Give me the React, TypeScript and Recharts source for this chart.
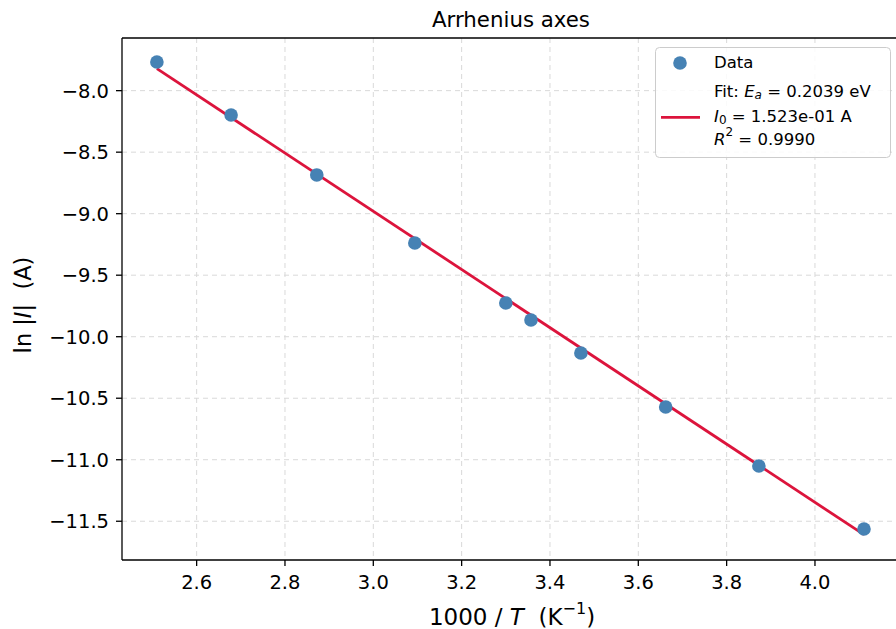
import React from "react";
import {
  ComposedChart,
  Scatter,
  Line,
  XAxis,
  YAxis,
  CartesianGrid,
  ReferenceLine,
  Label,
} from "recharts";

// Measured data (1000/T in K^-1, ln|I| in A)
const invT = [2.510, 2.678, 2.872, 3.094, 3.300, 3.357, 3.470, 3.662, 3.873, 4.111];
const lnI = [-7.767, -8.198, -8.685, -9.238, -9.726, -9.864, -10.132, -10.571, -11.051, -11.563];

// Fit line endpoints
const fitX = [2.510, 4.111];
const fitY = [-7.821, -11.609];

const xTicks = [2.6, 2.8, 3.0, 3.2, 3.4, 3.6, 3.8, 4.0];
const yTicks = [-8.0, -8.5, -9.0, -9.5, -10.0, -10.5, -11.0, -11.5];
const xDomain = [2.431, 4.188];
const yDomain = [-11.815, -7.572];

const title = "Arrhenius axes";
const legendData = "Data";
const fitEa = "0.2039 eV";
const fitI0 = "1.523e-01 A";
const fitR2 = "0.9990";

const dataPts = invT.map((x, i) => ({ x, y: lnI[i] }));
const fitPts = fitX.map((x, i) => ({ x, y: fitY[i] }));

const FONT = "DejaVu Sans, sans-serif";
const BLUE = "#4682b4";
const RED = "#dc143c";

const fmtY = (v: number) => (v < 0 ? "\u2212" + Math.abs(v).toFixed(1) : v.toFixed(1));

const Dot = (p: any) => <circle cx={p.cx} cy={p.cy} r={6.8} fill={BLUE} />;

const YLabel = (props: any) => {
  const vb = props.viewBox || { x: 0, y: 38, width: 122, height: 522 };
  const cy = vb.y + vb.height / 2 + 6;
  const cx = 23;
  return (
    <text
      x={cx}
      y={cy}
      transform={`rotate(-90 ${cx} ${cy})`}
      textAnchor="middle"
      dominantBaseline="central"
      fontFamily={FONT}
      fontSize={22.5}
      fill="#000"
    >
      ln |<tspan fontStyle="italic">I</tspan>|{"\u00a0\u00a0"}(A)
    </text>
  );
};

const XLabel = (props: any) => {
  const vb = props.viewBox || { x: 122, y: 560, width: 776, height: 69 };
  const cx = vb.x + vb.width / 2 + 2;
  return (
    <text
      x={cx}
      y={617}
      textAnchor="middle"
      dominantBaseline="central"
      fontFamily={FONT}
      fontSize={23}
      fill="#000"
    >
      1000 / <tspan fontStyle="italic">T</tspan>{"\u00a0\u00a0"}(K
      <tspan dy={-9} fontSize={16}>{"\u22121"}</tspan>
      <tspan dy={9}>)</tspan>
    </text>
  );
};

export default function App() {
  return (
    <div
      style={{
        position: "absolute",
        left: 0,
        top: 0,
        width: 896,
        height: 629,
        overflow: "hidden",
        background: "#fff",
      }}
    >
      <ComposedChart
        width={900}
        height={629}
        margin={{ top: 38, right: 2, bottom: 0, left: 0 }}
      >
        <CartesianGrid
          stroke="#d9d9d9"
          strokeDasharray="5 4"
          horizontalValues={yTicks}
          verticalValues={xTicks}
        />
        <XAxis
          type="number"
          dataKey="x"
          domain={xDomain}
          ticks={xTicks}
          allowDataOverflow
          tickFormatter={(v: number) => v.toFixed(1)}
          tick={{ fontFamily: FONT, fontSize: 19.5, fill: "#000" }}
          tickSize={6}
          tickMargin={9}
          axisLine={{ stroke: "#000", strokeWidth: 1.3 }}
          tickLine={{ stroke: "#000", strokeWidth: 1.3 }}
          height={69}
        >
          <Label content={XLabel} />
        </XAxis>
        <YAxis
          type="number"
          dataKey="y"
          domain={yDomain}
          ticks={yTicks}
          allowDataOverflow
          tickFormatter={fmtY}
          tick={{ fontFamily: FONT, fontSize: 19.5, fill: "#000" }}
          tickSize={6}
          tickMargin={7}
          axisLine={{ stroke: "#000", strokeWidth: 1.3 }}
          tickLine={{ stroke: "#000", strokeWidth: 1.3 }}
          width={122}
        >
          <Label content={YLabel} />
        </YAxis>
        <ReferenceLine y={yDomain[1]} stroke="#000" strokeWidth={1.3} />
        <ReferenceLine x={xDomain[1]} stroke="#000" strokeWidth={1.3} />
        <Line
          data={fitPts}
          dataKey="y"
          type="linear"
          stroke={RED}
          strokeWidth={2.8}
          dot={false}
          activeDot={false}
          isAnimationActive={false}
        />
        <Scatter
          data={dataPts}
          dataKey="y"
          shape={Dot}
          isAnimationActive={false}
        />
      </ComposedChart>
      <svg
        width={896}
        height={629}
        style={{ position: "absolute", left: 0, top: 0, pointerEvents: "none" }}
      >
        <text
          x={511}
          y={19.5}
          textAnchor="middle"
          dominantBaseline="central"
          fontFamily={FONT}
          fontSize={21.3}
          fill="#000"
        >
          {title}
        </text>
        <rect
          x={655.5}
          y={47.5}
          width={235}
          height={110}
          rx={4}
          fill="#fff"
          fillOpacity={0.85}
          stroke="#cccccc"
          strokeWidth={1}
        />
        <circle cx={680} cy={63} r={6.8} fill={BLUE} />
        <text x={714} y={62.5} dominantBaseline="central" fontFamily={FONT} fontSize={16.5} fill="#000">
          {legendData}
        </text>
        <line x1={661} y1={117.3} x2={700} y2={117.3} stroke={RED} strokeWidth={2.8} />
        <text x={714} y={91} dominantBaseline="central" fontFamily={FONT} fontSize={16.5} fill="#000">
          Fit: <tspan fontStyle="italic">E</tspan>
          <tspan fontStyle="italic" fontSize={12} dy={4}>a</tspan>
          <tspan dy={-4}> = {fitEa}</tspan>
        </text>
        <text x={714} y={115.5} dominantBaseline="central" fontFamily={FONT} fontSize={16.5} fill="#000">
          <tspan fontStyle="italic">I</tspan>
          <tspan fontSize={12} dy={4}>0</tspan>
          <tspan dy={-4}> = {fitI0}</tspan>
        </text>
        <text x={714} y={139} dominantBaseline="central" fontFamily={FONT} fontSize={16.5} fill="#000">
          <tspan fontStyle="italic">R</tspan>
          <tspan fontSize={12} dy={-7}>2</tspan>
          <tspan dy={7}> = {fitR2}</tspan>
        </text>
      </svg>
    </div>
  );
}
